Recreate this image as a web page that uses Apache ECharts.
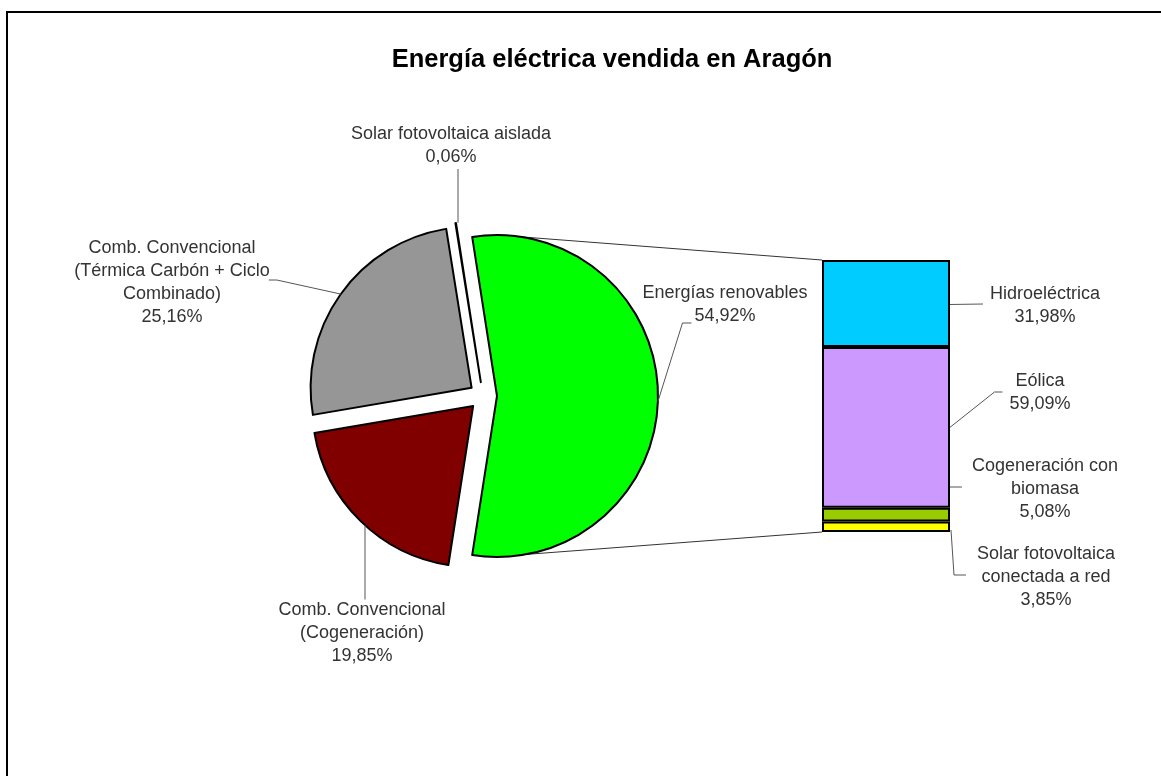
<!DOCTYPE html>
<html>
<head>
<meta charset="utf-8">
<script src="https://cdn.jsdelivr.net/npm/echarts@6/dist/echarts.min.js"></script>
<style>
  html, body { margin: 0; padding: 0; background: #fff; }
  #main { width: 1161px; height: 776px; }
</style>
</head>
<body>
<div id="main"></div>
<script>
// pie: share of electricity sold (%)
var pieNames = ['Energías renovables', 'Comb. Convencional\n(Cogeneración)',
  'Comb. Convencional\n(Térmica Carbón + Ciclo\nCombinado)', 'Solar fotovoltaica aislada'];
var pieValues = [54.92, 19.85, 25.16, 0.06];
var pieColors = ['#00ff00', '#800000', '#969696', '#ffffff'];

// bar: breakdown of renewables (%), bottom to top
var barNames = ['Solar fotovoltaica\nconectada a red', 'Cogeneración con\nbiomasa', 'Eólica', 'Hidroeléctrica'];
var barValues = [3.85, 5.08, 59.09, 31.98];
var barColors = ['#ffff00', '#99cc00', '#cc99ff', '#00ccff'];

// label centres (layout only)
var pieLabelPos = [[725, 305], [362, 633], [172, 283], [451, 146]];
var barLabelPos = [[1046, 577], [1045, 489], [1040, 393], [1045, 306]];

var cx = 483, cy = 396, R = 161, OFF = 14;
var gridLeft = 822, gridTop = 260, gridW = 128, gridH = 272;
var FONT = 'Liberation Sans, Arial';
var fmt = function (v) { return v.toFixed(2).replace('.', ',') + '%'; };
var textStyle = { fontFamily: FONT, fontSize: 18, lineHeight: 23, color: '#333' };
var lineColor = '#555';

// renewables slice centred on 3 o'clock, slices run clockwise
var total = pieValues.reduce(function (s, v) { return s + v; }, 0);
var startAngle = 90 + (pieValues[0] / total * 360 - 180) / 2;
var sliceAngles = [];
(function () {
  var a = startAngle;
  pieValues.forEach(function (v) { var s = v / total * 360; sliceAngles.push([a, a - s]); a -= s; });
})();

function sliceCenter(i) {
  var m = (sliceAngles[i][0] + sliceAngles[i][1]) / 2 * Math.PI / 180;
  return [cx + OFF * Math.cos(m), cy - OFF * Math.sin(m)];
}
function arcPt(i, deg) {
  var c = sliceCenter(i), r = deg * Math.PI / 180;
  return [c[0] + R * Math.cos(r), c[1] - R * Math.sin(r)];
}
function arcPtAtX(i, x, lower) {
  var c = sliceCenter(i), dx = x - c[0], dy = Math.sqrt(Math.max(0, R * R - dx * dx));
  return [x, lower ? c[1] + dy : c[1] - dy];
}

function pieLabelLayout(p) {
  var i = p.dataIndex, pos = pieLabelPos[i];
  var w = p.labelRect.width, h = p.labelRect.height;
  var pts;
  if (i === 0) {
    var lx = pos[0] - textWidth(fmt(pieValues[0])) / 2 - 3;
    pts = [arcPt(0, -2), [lx - 9, pos[1] + 18], [lx, pos[1] + 18]];
  } else if (i === 1) {
    var a1 = arcPtAtX(1, pos[0] + 3, true);
    pts = [a1, [a1[0], pos[1] - h / 2 + 1]];
  } else if (i === 2) {
    var m = (sliceAngles[2][0] + sliceAngles[2][1]) / 2, rx = pos[0] + w / 2 - 1;
    pts = [arcPt(2, m), [rx + 8, pos[1] - 3], [rx, pos[1] - 3]];
  } else {
    var a3 = arcPtAtX(3, pos[0] + 7, false);
    pts = [a3, [a3[0], pos[1] + h / 2]];
  }
  return { x: pos[0], y: pos[1], align: 'center', verticalAlign: 'middle', labelLinePoints: pts };
}

var measureCtx = document.createElement('canvas').getContext('2d');
function textWidth(s) {
  measureCtx.font = '18px ' + FONT;
  return Math.max.apply(null, s.split('\n').map(function (t) { return measureCtx.measureText(t).width; }));
}

var chart = echarts.init(document.getElementById('main'));

var barSeries = barValues.map(function (v, i) {
  return {
    type: 'bar', name: barNames[i], stack: 'r', barWidth: '100%',
    data: [v],
    itemStyle: { color: barColors[i], borderColor: '#000', borderWidth: 2 },
    label: Object.assign({ show: true, position: 'right', formatter: barNames[i] + '\n' + fmt(v) }, textStyle),
    labelLayout: function () {
      return { x: barLabelPos[i][0], y: barLabelPos[i][1], align: 'center', verticalAlign: 'middle' };
    },
    emphasis: { disabled: true }
  };
});

chart.setOption({
  animation: false,
  title: {
    text: 'Energía eléctrica vendida en Aragón',
    left: 607, top: 42, textAlign: 'center',
    textStyle: { fontFamily: FONT, fontSize: 25.5, fontWeight: 'bold', color: '#000' }
  },
  grid: { left: gridLeft, top: gridTop, width: gridW, height: gridH },
  xAxis: { type: 'category', data: ['r'], show: false },
  yAxis: { type: 'value', min: 0, max: 100, show: false },
  series: [{
    // exploded slices
    type: 'pie',
    center: [cx, cy],
    radius: R,
    startAngle: startAngle,
    clockwise: true,
    selectedMode: 'multiple',
    selectedOffset: OFF,
    emphasis: { disabled: true },
    data: pieValues.map(function (v, i) {
      return { name: pieNames[i], value: v, selected: true, itemStyle: { color: pieColors[i] } };
    }),
    itemStyle: { borderColor: '#000', borderWidth: 2 },
    label: { show: false },
    labelLine: { show: false }
  }, {
    // same slices, invisible, carrying the labels
    type: 'pie',
    z: 3,
    center: [cx, cy],
    radius: R,
    startAngle: startAngle,
    clockwise: true,
    silent: true,
    avoidLabelOverlap: false,
    emphasis: { disabled: true },
    data: pieValues.map(function (v, i) { return { name: pieNames[i], value: v }; }),
    itemStyle: { color: 'rgba(0,0,0,0)', borderWidth: 0 },
    label: Object.assign({ show: true, formatter: function (p) { return p.name + '\n' + fmt(p.value); } }, textStyle),
    labelLine: { show: true, lineStyle: { color: lineColor, width: 1 } },
    labelLayout: pieLabelLayout
  }].concat(barSeries)
});

// leader lines for the bar segments, from the segment edges given by the axis
var xr = gridLeft + gridW;
var segs = [];
(function () {
  var acc = 0;
  barValues.forEach(function (v) {
    segs.push([chart.convertToPixel({ gridIndex: 0 }, [0, acc])[1], chart.convertToPixel({ gridIndex: 0 }, [0, acc + v])[1]]);
    acc += v;
  });
})();
function labelLeft(i) { return barLabelPos[i][0] - textWidth(barNames[i] + '\n' + fmt(barValues[i])) / 2 - 7; }
var barLeaders = [
  [[xr + 1, segs[0][0] - 2], [xr + 4, barLabelPos[0][1] - 2], [labelLeft(0) - 4, barLabelPos[0][1] - 2]],
  [[xr, barLabelPos[1][1] - 2], [labelLeft(1) - 3, barLabelPos[1][1] - 2]],
  [[xr, (segs[2][0] + segs[2][1]) / 2], [labelLeft(2) - 8, barLabelPos[2][1] - 1], [labelLeft(2), barLabelPos[2][1] - 1]],
  [[xr, (segs[3][0] + segs[3][1]) / 2 + 1], [labelLeft(3), barLabelPos[3][1] - 2]]
];

// frame and connector lines from the renewables slice to the bar
var gc = sliceCenter(0);
var graphics = [
  { type: 'rect', shape: { x: 7, y: 12, width: 1400, height: 1000 },
    style: { fill: 'none', stroke: '#000', lineWidth: 2 }, silent: true },
  { type: 'line', shape: { x1: gc[0], y1: gc[1] - R, x2: gridLeft, y2: segs[3][1] },
    style: { stroke: '#333', lineWidth: 1 }, silent: true },
  { type: 'line', shape: { x1: gc[0] + 8, y1: gc[1] + R - 1, x2: gridLeft, y2: segs[0][0] },
    style: { stroke: '#333', lineWidth: 1 }, silent: true }
];
barLeaders.forEach(function (pts) {
  graphics.push({ type: 'polyline', shape: { points: pts },
    style: { stroke: lineColor, lineWidth: 1, fill: 'none' }, silent: true });
});
chart.setOption({ graphic: graphics });
</script>
</body>
</html>
